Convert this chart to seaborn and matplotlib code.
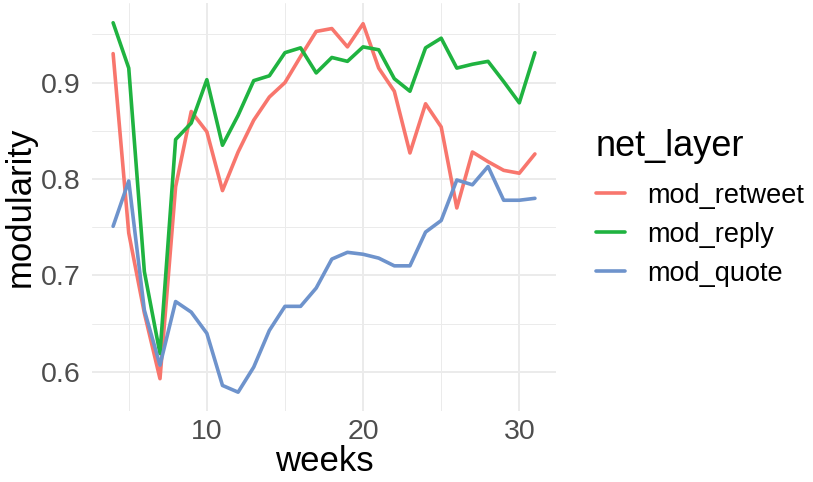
import numpy as np
import pandas as pd
import seaborn as sns
import matplotlib.pyplot as plt
from matplotlib.ticker import MultipleLocator

# ------------------- Data -------------------
weeks = list(range(4, 32))

mod_retweet = [0.930, 0.744, 0.661, 0.593, 0.792, 0.870, 0.849, 0.788, 0.828, 0.861,
               0.885, 0.900, 0.927, 0.953, 0.956, 0.937, 0.961, 0.915, 0.891, 0.827,
               0.878, 0.854, 0.770, 0.828, 0.818, 0.809, 0.806, 0.826]
mod_reply = [0.962, 0.915, 0.704, 0.619, 0.841, 0.858, 0.903, 0.835, 0.866, 0.902,
             0.907, 0.931, 0.936, 0.910, 0.926, 0.922, 0.937, 0.934, 0.904, 0.891,
             0.936, 0.946, 0.915, 0.919, 0.922, 0.901, 0.879, 0.931]
mod_quote = [0.751, 0.798, 0.664, 0.607, 0.673, 0.662, 0.640, 0.586, 0.579, 0.605,
             0.643, 0.668, 0.668, 0.687, 0.717, 0.724, 0.722, 0.718, 0.710, 0.710,
             0.745, 0.757, 0.799, 0.794, 0.813, 0.778, 0.778, 0.780]

layers = ['mod_retweet', 'mod_reply', 'mod_quote']
colors = ['#F8766D', '#1FB340', '#6E93CC']

df = pd.DataFrame({'weeks': weeks, 'mod_retweet': mod_retweet,
                   'mod_reply': mod_reply, 'mod_quote': mod_quote})
long_df = df.melt(id_vars='weeks', var_name='net_layer', value_name='modularity')

# ------------------- Plot -------------------
sns.set_style('white')
plt.rcParams['font.family'] = ['Liberation Sans', 'DejaVu Sans']
plt.rcParams['text.color'] = 'black'

fig = plt.figure(figsize=(8.13, 4.82), dpi=100)
ax = fig.add_axes([0.1132, 0.1473, 0.5707, 0.8465])

sns.lineplot(data=long_df, x='weeks', y='modularity', hue='net_layer',
             hue_order=layers, palette=dict(zip(layers, colors)),
             linewidth=2.6, ax=ax)

ax.set_xlim(2.65, 32.35)
ax.set_ylim(0.5595, 0.9825)
ax.xaxis.set_major_locator(MultipleLocator(10))
ax.xaxis.set_minor_locator(MultipleLocator(5))
ax.yaxis.set_major_locator(MultipleLocator(0.1))
ax.yaxis.set_minor_locator(MultipleLocator(0.05))
ax.grid(which='major', color='#EBEBEB', linewidth=1.4)
ax.grid(which='minor', color='#EBEBEB', linewidth=0.7)
ax.set_axisbelow(True)
for s in ax.spines.values():
    s.set_visible(False)
ax.tick_params(which='both', length=0, labelsize=20.5, labelcolor='#4D4D4D')
ax.tick_params(axis='y', pad=8)
ax.tick_params(axis='x', pad=6)

ax.set_xlabel('weeks', fontsize=25, labelpad=0, color='black')
ax.set_ylabel('modularity', fontsize=25, labelpad=3, color='black')

leg = ax.legend(title='net_layer', loc='upper left', bbox_to_anchor=(0.716, 0.76),
                bbox_transform=fig.transFigure, frameon=False, borderpad=0,
                fontsize=19.5, title_fontsize=26, handlelength=1.1,
                handletextpad=0.8, labelspacing=0.48, alignment='left')
leg._legend_box.sep = 13.5  # a bit more room under the title
leg.get_title().set_color('black')
for t in leg.get_texts():
    t.set_color('black')
for line in leg.get_lines():
    line.set_linewidth(2.6)

fig.savefig('out.png', dpi=100)
